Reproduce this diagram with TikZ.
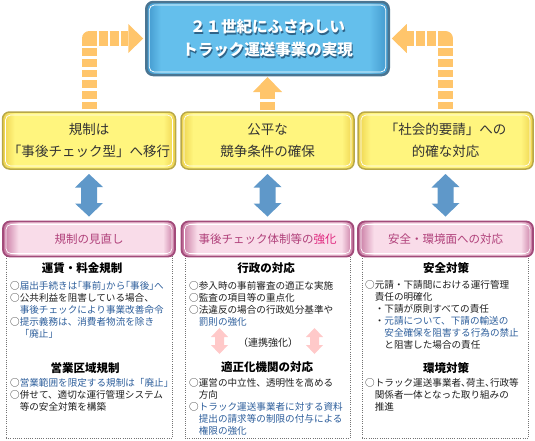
\documentclass[tikz,border=0pt]{standalone}
\usepackage{fontspec}
\setmainfont{Noto Sans CJK JP}
\newfontfamily\halfpunct[RawFeature=+halt]{Noto Sans CJK JP}
\usetikzlibrary{calc}

\definecolor{titleblue}{HTML}{64BFEC}
\definecolor{titleedge}{HTML}{4096CB}
\definecolor{titleline}{HTML}{4A7592}
\definecolor{titleshadow}{HTML}{2F6489}
\definecolor{yelmid}{HTML}{FFF57E}
\definecolor{yeledge}{HTML}{EDD14C}
\definecolor{yelline}{HTML}{B8A849}
\definecolor{pinkmid}{HTML}{F9DCE9}
\definecolor{pinkedge}{HTML}{C4719C}
\definecolor{pinkline}{HTML}{A24B7A}
\definecolor{pinktxt}{HTML}{B0407A}
\definecolor{pinkstrong}{HTML}{E0267E}
\definecolor{arrorange}{HTML}{FFC56B}
\definecolor{arrblue}{HTML}{5F98C9}
\definecolor{arrpink}{HTML}{FFC9C9}
\definecolor{txtblue}{HTML}{2D5E9B}
\definecolor{txtdark}{HTML}{1E1E1E}

\pgfdeclarehorizontalshading{titlebar}{100bp}{color(0bp)=(titleedge); color(25bp)=(titleedge); color(28bp)=(titleblue); color(71bp)=(titleblue); color(75bp)=(titleedge); color(100bp)=(titleedge)}
\pgfdeclarehorizontalshading{yelbar}{100bp}{color(0bp)=(yeledge); color(25bp)=(yeledge); color(28.5bp)=(yelmid); color(71.5bp)=(yelmid); color(75bp)=(yeledge); color(100bp)=(yeledge)}
\pgfdeclarehorizontalshading{pinkbar}{100bp}{color(0bp)=(pinkedge); color(25bp)=(pinkedge); color(29.5bp)=(pinkmid); color(71.5bp)=(pinkmid); color(75bp)=(pinkedge); color(100bp)=(pinkedge)}

\newcommand{\bl}[1]{\textcolor{txtblue}{#1}}
\newcommand{\indt}{\hspace*{9.6pt}}

\tikzset{
  topbox/.style={rounded corners=7pt, draw=titleline, line width=2.5pt, shade, shading=titlebar,
    minimum width=242.5pt, minimum height=73pt, inner sep=0pt, outer sep=0pt},
  titletxt/.style={text=white, align=center, inner sep=0pt,
    font=\fontsize{15.5}{23}\selectfont\bfseries},
  goalbox/.style={rounded corners=7pt, draw=yelline, line width=1.5pt, shade, shading=yelbar,
    minimum width=173pt, minimum height=57pt, inner sep=0pt, outer sep=0pt, align=center,
    text=black!80, font=\fontsize{13.5}{22}\selectfont},
  headbox/.style={rounded corners=7pt, draw=pinkline, line width=1.8pt, shade, shading=pinkbar,
    minimum width=172pt, minimum height=35pt, inner sep=0pt, outer sep=0pt,
    text=pinktxt, font=\fontsize{11.5}{14}\selectfont},
  framebox/.style={draw=black!55, line width=0.7pt, dash pattern=on 0.7pt off 1.5pt,
    minimum width=166pt, minimum height=190pt, inner sep=0pt},
  subhead/.style={inner sep=0pt, text=black, font=\fontsize{11.5}{14}\selectfont\bfseries},
  bodytxt/.style={anchor=north west, align=left, inner sep=0pt, text=txtdark,
    font=\fontsize{9.6}{12}\selectfont},
  goalshaft/.style={draw=arrorange, line width=15pt, line join=round},
  sideshaft/.style={goalshaft, dash pattern=on 0pt off 2.7pt on 7.5pt off 3.2pt on 7.5pt off 3.2pt
    on 7.5pt off 3.2pt on 7.5pt off 3.2pt on 7.5pt off 3.2pt on 7.5pt off 2.3pt
    on 15pt off 2pt on 9pt off 2pt on 9pt off 2pt on 20pt off 20pt},
}

\begin{document}
\begin{tikzpicture}[x=1pt, y=-1pt]
  \useasboundingbox (0,0) rectangle (535,440);

  % goal
  \node[topbox] (top) at (267.5,38.5) {};
  \node[titletxt, text=titleshadow] (titlesh) at ($(top.center)+(1.2,1.2)$) {２１世紀にふさわしい\\トラック運送事業の実現};
  \node[titletxt] (title) at (top.center) {２１世紀にふさわしい\\トラック運送事業の実現};

  % three aims
  \node[goalbox] (y1) at (89,140.5) {規制は\\「事後チェック型」へ移行};
  \node[goalbox] (y2) at (267.5,140.5) {公平な\\競争条件の確保};
  \node[goalbox, minimum width=175pt] (y3) at (445.5,140.5) {「社会的要請」への\\的確な対応};

  % detail frames, then their headers
  \node[framebox] (f1) at (89,343) {};
  \node[framebox, minimum width=165pt] (f2) at (267.5,343) {};
  \node[framebox] (f3) at (445,343) {};
  \node[headbox] (p1) at (89,239) {規制の見直し};
  \node[headbox] (p2) at (267.5,239) {事後チェック体制等の\textcolor{pinkstrong}{強化}};
  \node[headbox, minimum width=175pt] (p3) at (445.5,239) {安全・環境面への対応};

  \foreach \n in {top,y1,y2,y3,p1,p2,p3}
    \draw[white, line width=0.7pt, rounded corners=5pt] ($(\n.north west)+(3,3)$) rectangle ($(\n.south east)+(-3,-3)$);

  % orange arrows up to the goal
  \draw[sideshaft] (y1.north) |- ($(top.west)+(-18,0)$);
  \fill[arrorange] ($(top.west)+(-3,0)$) -- ++(-15,-14.5) -- ++(0,29) -- cycle;
  \draw[sideshaft] (y3.north) |- ($(top.east)+(18,0)$);
  \fill[arrorange] ($(top.east)+(3,0)$) -- ++(15,-14.5) -- ++(0,29) -- cycle;
  \draw[goalshaft, dash pattern=on 0pt off 2pt on 8pt off 3pt on 20pt off 5pt] (y2.north) -- ($(top.south)+(0,17)$);
  \fill[arrorange] ($(top.south)+(0,2)$) -- ++(14.5,15) -- ++(-29,0) -- cycle;

  % blue double arrows
  \foreach \a/\b in {y1/p1,y2/p2,y3/p3}
    \fill[arrblue] ($(\a.south)+(0,5)$) -- ++(14,13) -- ++(-6,0) -- ++(0,16) -- ++(6,0)
      -- ($(\b.north)+(0,-5)$) -- ++(-14,-13) -- ++(6,0) -- ++(0,-16) -- ++(-6,0) -- cycle;

  % left column
  \node[subhead] (h1) at (82,268) {運賃・料金規制};
  \node[bodytxt] (l1) at (10,281.5) {{\halfpunct ○\bl{届出手続きは「事前」から「事後」へ}}\\
○公共利益を阻害している場合、\\
\indt\bl{事後チェックにより事業改善命令}\\
○\bl{提示義務は、消費者物流を除き}\\
\indt\bl{「廃止」}};
  \node[subhead] (h2) at (85,368) {営業区域規制};
  \node[bodytxt] (l2) at (10,378.5) {○\bl{営業範囲を限定する規制は「廃止」}\\
○併せて、適切な運行管理システム\\
\indt 等の安全対策を構築};

  % middle column
  \node[subhead] (h3) at (266,268) {行政の対応};
  \node[bodytxt] (m1) at (189,281.5) {○参入時の事前審査の適正な実施\\
○監査の項目等の重点化\\
○法違反の場合の行政処分基準や\\
\indt\bl{罰則の強化}};
  \node[inner sep=0pt, text=txtdark, font=\fontsize{10}{12}\selectfont] (renkei) at (268,343) {（連携強化）};
  \foreach \dx in {-48.5,46.5}
    \fill[arrpink] ($(renkei)+(\dx,-15)$) -- ++(8.5,9) -- ++(-4,0) -- ++(0,8) -- ++(4,0) -- ++(-8.5,9)
      -- ++(-8.5,-9) -- ++(4,0) -- ++(0,-8) -- ++(-4,0) -- cycle;
  \node[subhead] (h4) at (267,367) {適正化機関の対応};
  \node[bodytxt] (m2) at (189,378.5) {○運営の中立性、透明性を高める\\
\indt 方向\\
○\bl{トラック運送事業者に対する資料}\\
\indt\bl{提出の請求等の制限の付与による}\\
\indt\bl{権限の強化}};

  % right column
  \node[subhead] (h5) at (446,268) {安全対策};
  \node[bodytxt] (r1) at (365,280.5) {○元請・下請間における運行管理\\
\indt 責任の明確化\\
\indt・下請が原則すべての責任\\
\indt・\bl{元請について、下請の輸送の}\\
\indt\indt\bl{安全確保を阻害する行為の禁止}\\
\indt\indt と阻害した場合の責任};
  \node[subhead] (h6) at (446,368) {環境対策};
  \node[bodytxt] (r2) at (365,378.5) {{\halfpunct ○トラック運送事業者、荷主、行政等}\\
\indt 関係者一体となった取り組みの\\
\indt 推進};
\end{tikzpicture}
\end{document}
